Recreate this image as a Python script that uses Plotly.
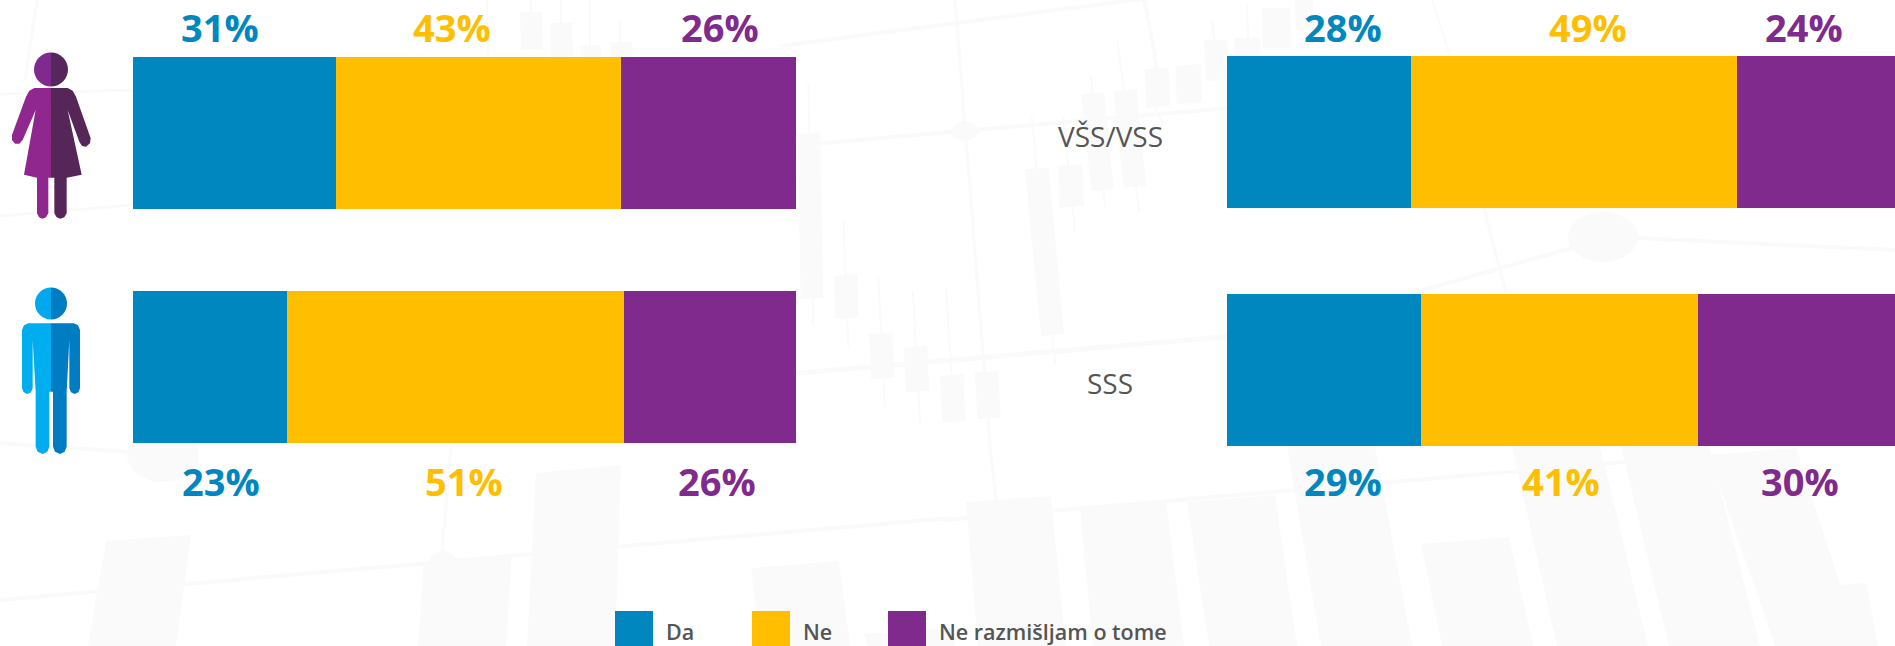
import plotly.graph_objects as go

W, H = 1895, 646

# ---- data ----
series_names = ["Da", "Ne", "Ne razmišljam o tome"]
gender_rows = ["Žene", "Muškarci"]
gender_da = [30.6, 23.2]
gender_ne = [43.0, 50.8]
gender_nr = [26.4, 26.0]
edu_rows = ["VŠS/VSS", "SSS"]
edu_da = [27.5, 29.0]
edu_ne = [48.8, 41.5]
edu_nr = [23.7, 29.5]
label_texts_top_left = ["31%", "43%", "26%"]
label_texts_bot_left = ["23%", "51%", "26%"]
label_texts_top_right = ["28%", "49%", "24%"]
label_texts_bot_right = ["29%", "41%", "30%"]

# ---- styles ----
COL = ["#0087bf", "#ffbe00", "#802a8d"]
BG = "#fafafa"
FONT = "Open Sans"


def px(x):
    return x / W


def py(y):
    return 1 - y / H


def ppath(pts):
    return "M " + " L ".join(f"{px(x):.5f},{py(y):.5f}" for x, y in pts) + " Z"


shapes = []


def poly(pts, color=BG, layer="below"):
    shapes.append(dict(type="path", xref="paper", yref="paper", path=ppath(pts),
                       fillcolor=color, line=dict(width=0), layer=layer))


def line(x0, y0, x1, y1, w=4):
    shapes.append(dict(type="line", xref="paper", yref="paper", x0=px(x0), y0=py(y0), x1=px(x1), y1=py(y1),
                       line=dict(color=BG, width=w), layer="below"))


def ellipse(cx, cy, rx, ry):
    shapes.append(dict(type="circle", xref="paper", yref="paper", x0=px(cx - rx), x1=px(cx + rx),
                       y0=py(cy - ry), y1=py(cy + ry), fillcolor=BG, line=dict(width=0), layer="below"))


def z4(x, y):
    return 780 + x / 3, y / 3


def candle(tx, ty, bx, by, w, wick=None):
    x0, y0 = z4(tx, ty)
    x1, y1 = z4(bx, by)
    d = w / 6
    poly([(x0 - d, y0 + 1), (x0 + d, y0 - 1), (x1 + d, y1 - 1), (x1 - d, y1 + 1)])
    if wick:
        a = z4(wick[0], wick[1])
        b = z4(wick[2], wick[3])
        line(a[0], a[1], b[0], b[1], 2)


# faint candlestick backdrop, middle
candle(87, 400, 96, 895, 68, (85, 250, 100, 975))
candle(198, 825, 200, 955, 70, (190, 660, 205, 1040))
candle(303, 1000, 308, 1135, 70, (295, 830, 315, 1225))
candle(407, 1040, 412, 1175, 70, (398, 870, 420, 1265))
candle(515, 1125, 522, 1265, 70, (498, 860, 515, 1120))
candle(620, 1115, 627, 1255, 70, (612, 1080, 632, 1350))
candle(770, 505, 818, 1005, 70, (755, 350, 826, 1095))
candle(870, 495, 875, 620, 72, (850, 345, 885, 700))
candle(938, 280, 968, 570, 68, (932, 225, 975, 620))
candle(1035, 270, 1065, 560, 68, (1012, 125, 1077, 635))
candle(1130, 205, 1135, 320, 72, (1125, 320, 1150, 375))
candle(1225, 195, 1228, 310, 76)
candle(1305, 125, 1312, 240, 66, (1295, 65, 1305, 125))
candle(1400, 115, 1402, 170, 70)
line(*z4(0, 138), *z4(1100, -5), 4)
line(*z4(525, 0), *z4(632, 1350), 3)
line(*z4(1095, 0), *z4(1130, 205), 3)
line(*z4(120, 430), *z4(1340, 325), 4)
line(*z4(50, 1120), *z4(1340, 1010), 5)
ellipse(*z4(555, 393), 13, 10)

# top band candles
for x0, x1, y0, y1 in [(520, 542, 12, 50), (550, 572, 23, 57), (580, 600, 45, 57), (610, 632, 42, 57),
                       (1204, 1227, 40, 56), (1234, 1260, 38, 56), (1262, 1290, 8, 48), (1295, 1313, 0, 30)]:
    poly([(x0, y0), (x1, y0), (x1 + 1, y1), (x0 + 1, y1)])
for a in [(487, 0, 488, 57), (531, 0, 531, 12), (561, 0, 561, 23), (590, 0, 590, 45), (620, 20, 620, 42),
          (1143, 0, 1156, 56), (1432, 0, 1450, 56), (1211, 20, 1214, 40), (1247, 5, 1248, 38)]:
    line(*a, 2)

# left side strokes
line(37, 0, 25, 80, 3)
line(0, 94, 133, 90, 3)
line(0, 216, 133, 205, 3)
line(0, 443, 130, 452, 4)
ellipse(163, 455, 36, 27)

# bottom big candles
for p in [
    [(106, 541), (191, 535), (176, 646), (88, 646)],
    [(424, 563), (512, 555), (506, 646), (418, 646)],
    [(536, 473), (621, 465), (615, 646), (527, 646)],
    [(751, 568), (839, 561), (850, 646), (760, 646)],
    [(864, 634), (950, 628), (955, 646), (868, 646)],
    [(966, 502), (1051, 496), (1066, 646), (978, 646)],
    [(1080, 510), (1166, 502), (1184, 646), (1093, 646)],
    [(1187, 502), (1275, 495), (1297, 646), (1209, 646)],
    [(1287, 446), (1375, 446), (1412, 646), (1321, 646)],
    [(1421, 544), (1509, 537), (1533, 646), (1442, 646)],
    [(1512, 446), (1600, 446), (1648, 646), (1557, 646)],
    [(1621, 446), (1709, 446), (1760, 646), (1669, 646)],
    [(1709, 455), (1796, 448), (1860, 646), (1775, 646)],
    [(1778, 590), (1866, 583), (1878, 646), (1790, 646)],
]:
    poly(p)
ellipse(443, 565, 14, 14)
line(0, 600, 950, 518, 4)
line(945, 520, 1625, 462, 4)
line(451, 446, 442, 552, 3)
line(990, 446, 996, 500, 3)

# right gap strokes
ellipse(1603, 237, 35, 25)
line(1637, 238, 1895, 250, 4)
line(1575, 247, 1413, 293, 4)
line(1484, 208, 1506, 293, 3)


# ---- people icons ----
def zoom_pts(pts, oy=0):
    return [(x / 3, y / 3 + oy) for x, y in pts]


def halfcircle(cx, cy, r, side, color):
    x, t, b = px(cx), py(cy - r), py(cy + r)
    rx, ry = r / W, r / H
    k = 0.5523
    ex = side * rx
    path = (f"M {x:.5f},{t:.5f} C {x + k * ex:.5f},{t:.5f} {x + ex:.5f},{py(cy) + k * ry:.5f} {x + ex:.5f},{py(cy):.5f} "
            f"C {x + ex:.5f},{py(cy) - k * ry:.5f} {x + k * ex:.5f},{b:.5f} {x:.5f},{b:.5f} Z")
    shapes.append(dict(type="path", xref="paper", yref="paper", path=path, fillcolor=color,
                       line=dict(width=0), layer="above"))


# woman
halfcircle(51, 69.5, 17, -1, "#802a90")
halfcircle(51, 69.5, 17, 1, "#55275a")
poly(zoom_pts([(153, 264), (103, 264), (88, 272), (78, 290), (36, 405), (36, 420), (45, 431), (58, 431), (68, 420),
               (107, 330), (72, 524), (111, 533), (111, 640), (117, 652), (127, 656), (138, 652), (145, 640),
               (145, 533), (153, 533)]), "#90278e", "above")
poly(zoom_pts([(153, 264), (203, 264), (218, 272), (228, 290), (272, 415), (270, 430), (258, 440), (246, 438),
               (238, 425), (203, 330), (245, 524), (200, 533), (200, 640), (193, 652), (181, 656), (170, 652),
               (163, 640), (163, 533), (153, 533)]), "#562658", "above")
# man
halfcircle(51, 303.5, 16, -1, "#00a9ed")
halfcircle(51, 303.5, 16, 1, "#007cc2")
poly(zoom_pts([(153, 160), (85, 160), (72, 166), (66, 180), (66, 355), (71, 367), (82, 372), (93, 367), (98, 355),
               (98, 210), (107, 365), (107, 530), (113, 545), (128, 552), (142, 545), (148, 530), (148, 365),
               (153, 365)], 270), "#00aeef", "above")
poly(zoom_pts([(153, 160), (222, 160), (234, 166), (240, 180), (240, 355), (235, 367), (224, 372), (213, 367),
               (208, 355), (208, 210), (200, 365), (200, 530), (194, 545), (180, 552), (165, 545), (159, 530),
               (159, 365), (153, 365)], 270), "#007cc2", "above")

# ---- annotations ----
annotations = []


def text(x, y, s, size, color, weight=400, anchor="center"):
    annotations.append(dict(xref="paper", yref="paper", x=px(x), y=py(y), text=s, showarrow=False,
                            xanchor=anchor, yanchor="middle", font=dict(family=FONT, size=size, color=color, weight=weight)))


for s, x, c in zip(label_texts_top_left, [220, 452, 720], COL):
    text(x, 27, s, 38, c, 700)
for s, x, c in zip(label_texts_bot_left, [220.5, 464, 717], COL):
    text(x, 481, s, 38, c, 700)
for s, x, c in zip(label_texts_top_right, [1343, 1588, 1804], COL):
    text(x, 27, s, 38, c, 700)
for s, x, c in zip(label_texts_bot_right, [1343, 1561, 1800], COL):
    text(x, 481, s, 38, c, 700)
text(1110, 136, edu_rows[0], 28, "#555555")
text(1110, 383, edu_rows[1], 28, "#555555")

# legend
for s, x0, c in zip(series_names, [615, 752, 888], COL):
    poly([(x0, 611), (x0 + 38, 611), (x0 + 38, 646), (x0, 646)], c, "above")
    text(x0 + 49, 631, s, 21.5, "#555555", 600, "left")

# ---- bars ----
fig = go.Figure()
for name, vals, c in zip(series_names, [gender_da, gender_ne, gender_nr], COL):
    fig.add_trace(go.Bar(y=gender_rows, x=vals, name=name, orientation="h", marker=dict(color=c, line=dict(width=0)),
                         width=152 / 234, xaxis="x", yaxis="y", showlegend=False))
for name, vals, c in zip(series_names, [edu_da, edu_ne, edu_nr], COL):
    fig.add_trace(go.Bar(y=edu_rows, x=vals, name=name, orientation="h", marker=dict(color=c, line=dict(width=0)),
                         width=152 / 238, xaxis="x2", yaxis="y2", showlegend=False))

axis_off = dict(showgrid=False, zeroline=False, showticklabels=False, ticks="", showline=False, fixedrange=True)
fig.update_layout(
    width=W, height=H, margin=dict(l=0, r=0, t=0, b=0, pad=0), barmode="stack",
    paper_bgcolor="#ffffff", plot_bgcolor="rgba(0,0,0,0)", showlegend=False,
    xaxis=dict(domain=[px(133), px(796)], range=[0, 100], anchor="y", **axis_off),
    yaxis=dict(domain=[py(484), py(16)], range=[1.5, -0.5], anchor="x", type="category", **axis_off),
    xaxis2=dict(domain=[px(1227), 1], range=[0, 100], anchor="y2", **axis_off),
    yaxis2=dict(domain=[py(489), py(13)], range=[1.5, -0.5], anchor="x2", type="category", **axis_off),
    shapes=shapes, annotations=annotations,
)

fig.write_html("out.html", config=dict(displayModeBar=False),
               post_script="document.body.style.margin='0';document.body.style.overflow='hidden';")
